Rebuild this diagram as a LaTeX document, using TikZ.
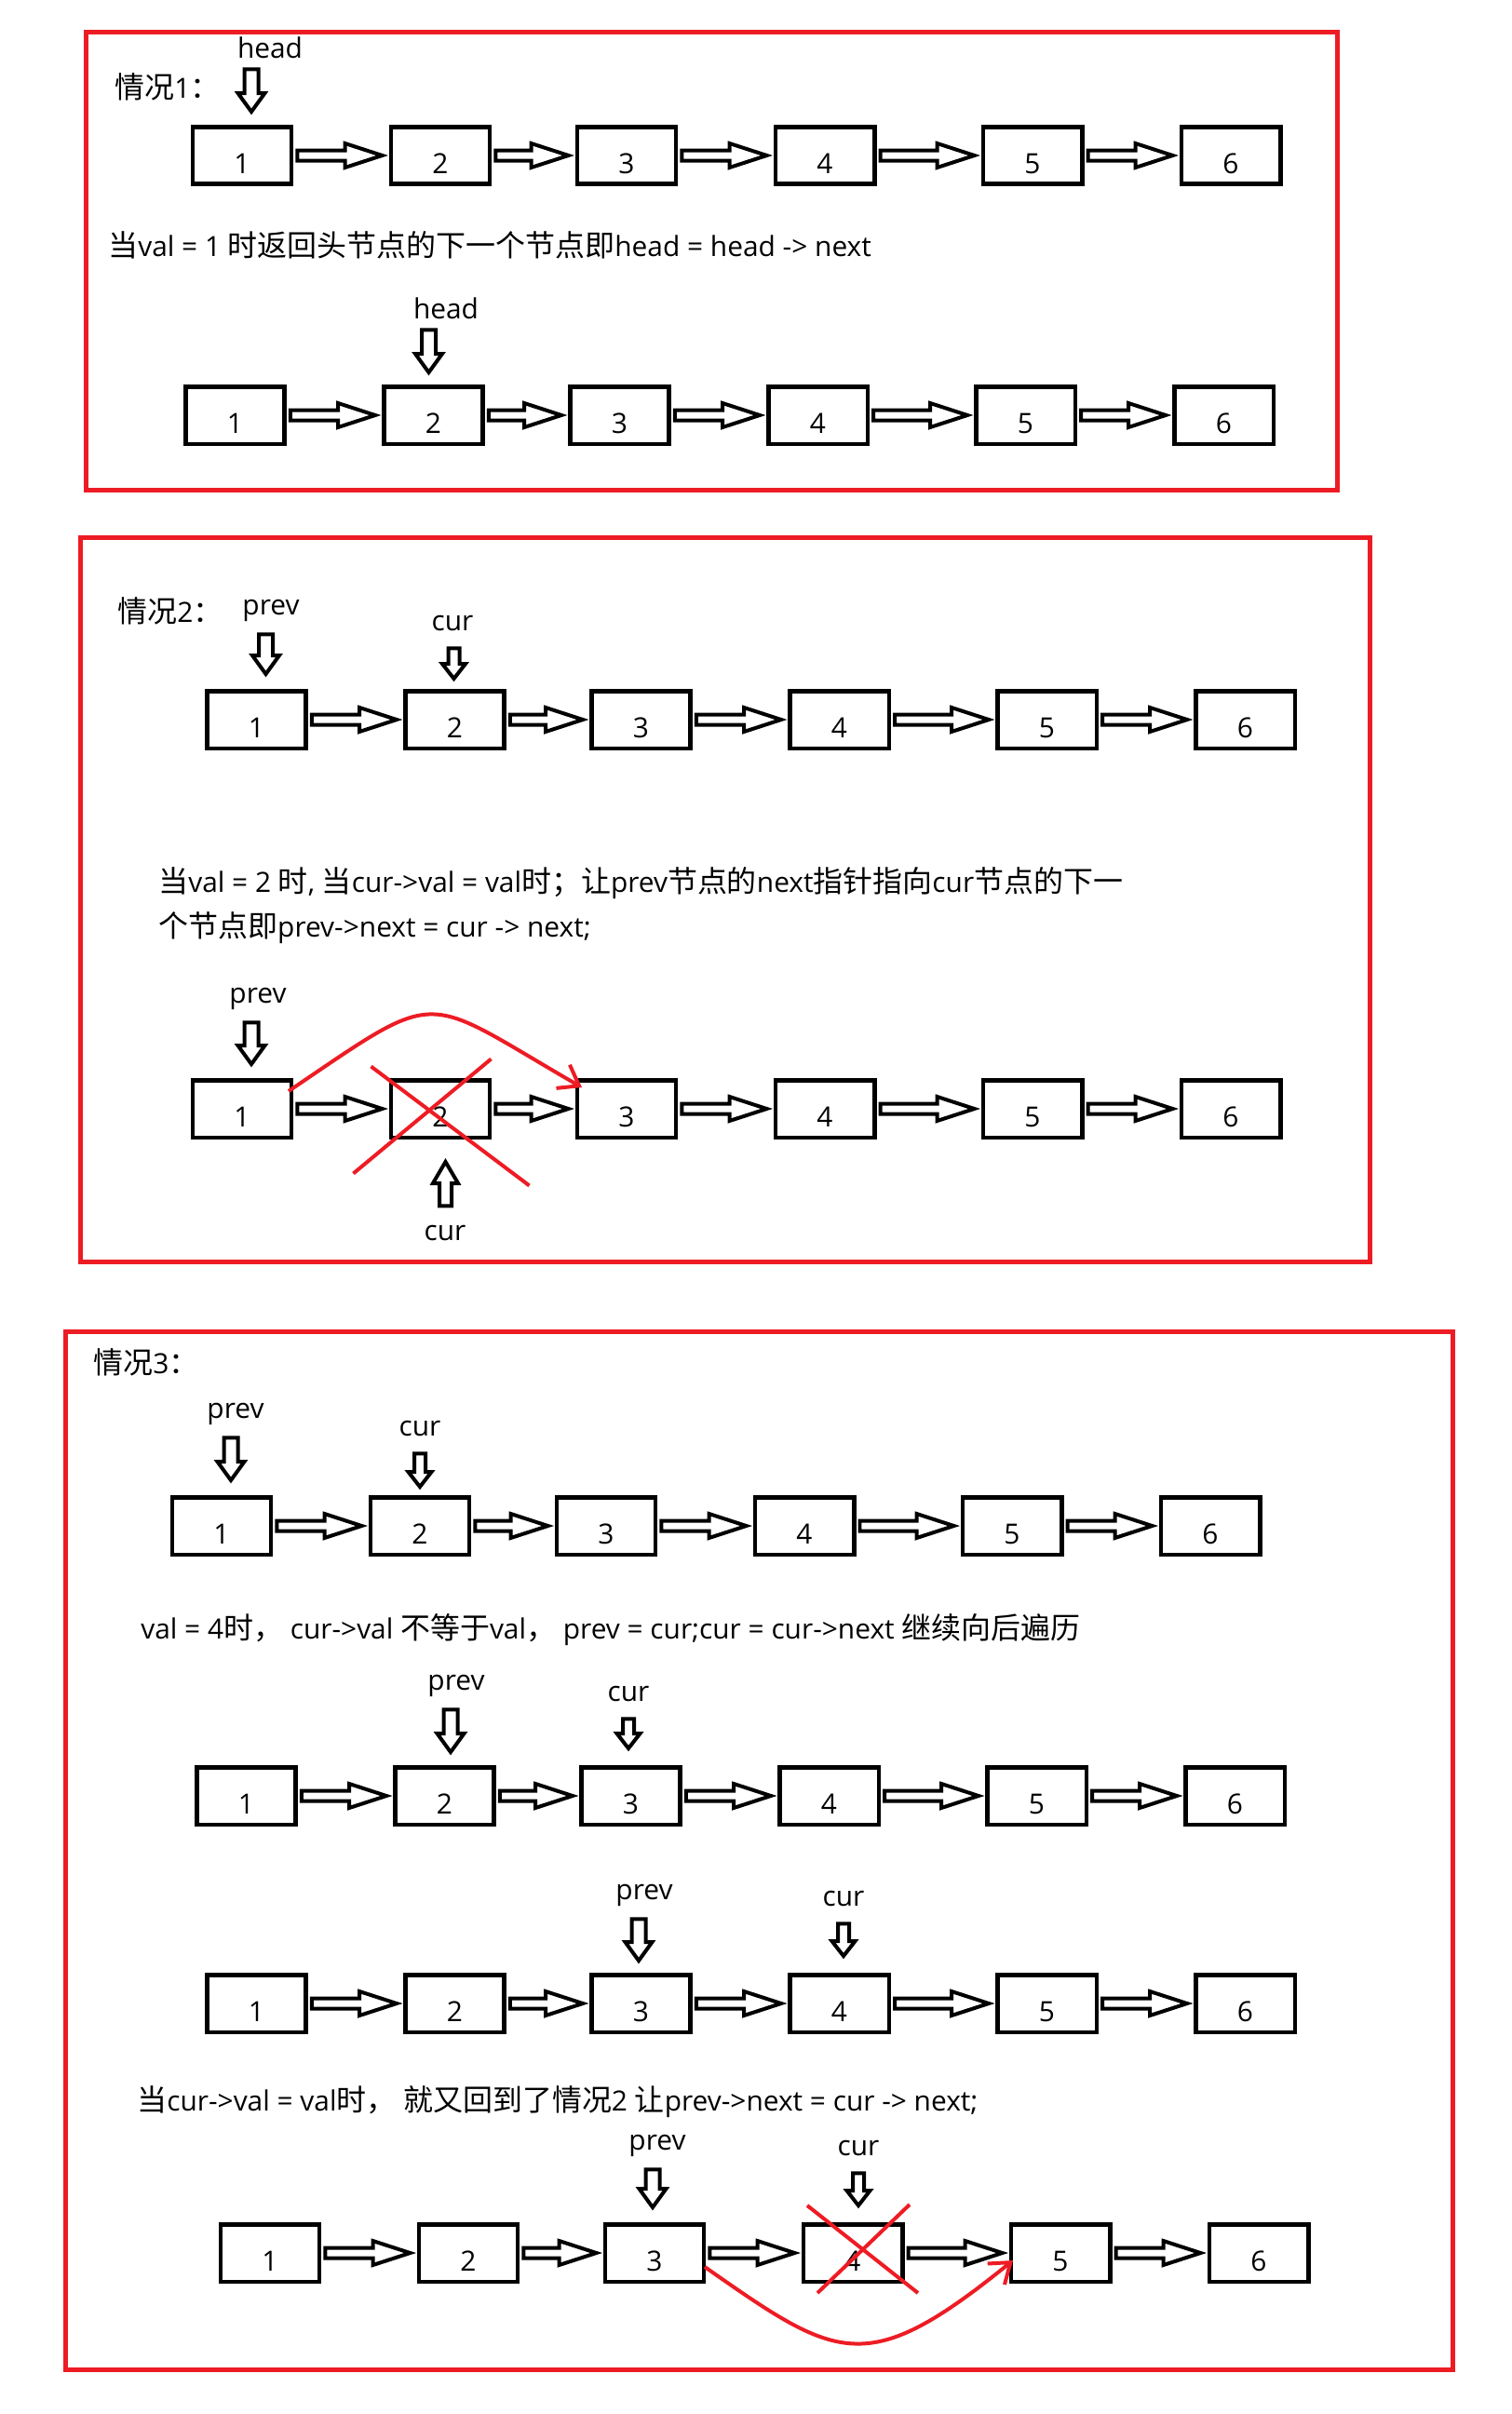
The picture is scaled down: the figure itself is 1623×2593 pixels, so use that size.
\documentclass[tikz,border=0pt]{standalone}
\usepackage{fontspec}
\setmainfont{Open Sans}
\newfontfamily\cjk[Scale=1.07]{Noto Sans CJK SC}
\usepackage{tikz}
\usetikzlibrary{arrows.meta, calc}
\definecolor{PaintRed}{RGB}{237, 28, 36}

% six boxes of one list, hollow arrows between them
\newcommand\linkedlist[3]{%
  \foreach \i/\dx in {1/0,2/213,3/413,4/626,5/849,6/1062}
    \node[listbox] (#1b\i) at (#2+\dx,#3) {\i};
  \foreach \i [evaluate=\i as \j using int(\i+1)] in {1,...,5}
    \draw[hollow] ($(#1b\i.east)+(4,-5.5)$) -- ($(#1b\j.west)+(-47,-5.5)$)
      -- ($(#1b\j.west)+(-47,-13)$) -- ($(#1b\j.west)+(-7,0)$)
      -- ($(#1b\j.west)+(-47,13)$) -- ($(#1b\j.west)+(-47,5.5)$)
      -- ($(#1b\i.east)+(4,5.5)$) -- cycle;
}
% hollow pointer from a label to a box
\newcommand\pointer[7]{%
  \coordinate (#1-tip) at (#3);
  \coordinate (#1-end) at ($(#1-tip |- #1.#2)+(0,#4)$);
  \draw[hollow] (#1-tip) -- ($(#1-tip)+(-#6,#5)$) -- ($(#1-tip)+(-#7,#5)$)
    -- ($(#1-end)+(-#7,0)$) -- ($(#1-end)+(#7,0)$)
    -- ($(#1-tip)+(#7,#5)$) -- ($(#1-tip)+(#6,#5)$) -- cycle;
}
\newcommand\bigptr[3]{\pointer{#1}{south}{#2}{#3}{-20}{14.5}{7.5}}
\newcommand\smallptr[3]{\pointer{#1}{south}{#2}{#3}{-16}{12.5}{6}}

\begin{document}
\begin{tikzpicture}[x=0.02cm, y=-0.02cm,
    font=\fontsize{17pt}{20pt}\selectfont,
    listbox/.style={draw, line width=0.09cm, minimum width=2.13cm, minimum height=1.23cm,
      inner sep=0pt, text height=0.76cm, text depth=0pt},
    hollow/.style={draw, line width=0.08cm, fill=white},
    ptrlabel/.style={anchor=base, inner sep=0pt, text depth=0pt},
    caption/.style={anchor=base west, inner sep=0pt},
    frame/.style={draw=PaintRed, line width=0.1cm},
    cross/.style={draw=PaintRed, line width=0.08cm},
    skip/.style={cross, -{Straight Barb[length=0.4cm, width=0.58cm]}},
  ]
  \useasboundingbox (0,0) rectangle (1623,2593);

  % case 1
  \draw[frame] (92,34) rectangle (1436,526);
  \node[caption] (case1) at (123,105) {{\cjk 情况}1{\cjk ：}};
  \linkedlist{r1}{260}{167}
  \node[ptrlabel] (hd1) at (290,62) {head};
  \bigptr{hd1}{$(r1b1.north)+(10,-14)$}{12}
  \node[caption] (rule1) at (116,275) {{\cjk 当}val = 1 {\cjk 时返回头节点的下一个节点即}head = head -> next};
  \linkedlist{r2}{252.5}{446}
  \node[ptrlabel] (hd2) at (479,342) {head};
  \bigptr{hd2}{$(r2b2.north)+(-5,-13)$}{12}

  % case 2
  \draw[frame] (86,577) rectangle (1471,1355);
  \node[caption] (case2) at (126,668) {{\cjk 情况}2{\cjk ：}};
  \linkedlist{r3}{275.5}{773}
  \node[ptrlabel] (pv3) at (291,660) {prev};
  \bigptr{pv3}{$(r3b1.north)+(10,-16)$}{21}
  \node[ptrlabel] (cu3) at (486,677) {cur};
  \smallptr{cu3}{$(r3b2.north)+(-1,-11)$}{19}
  \node[caption] (rule2a) at (170,958) {{\cjk 当}val = 2 {\cjk 时}, {\cjk 当}cur->val = val{\cjk 时；让}prev{\cjk 节点的}next{\cjk 指针指向}cur{\cjk 节点的下一}};
  \node[caption] (rule2b) at (170,1006) {{\cjk 个节点即}prev->next = cur -> next;};
  \linkedlist{r4}{260}{1191}
  \node[ptrlabel] (pv4) at (277,1077) {prev};
  \bigptr{pv4}{$(r4b1.north)+(10,-15)$}{21}
  \node[ptrlabel] (cu4) at (478,1332) {cur};
  \pointer{cu4}{north}{$(r4b2.south)+(5.5,24)$}{-20}{23}{13.5}{6.5}
  \draw[cross] ($(r4b2)+(-74.5,-45.5)$) -- ($(r4b2)+(95.5,82.5)$);
  \draw[cross] ($(r4b2)+(54.5,-53.5)$) -- ($(r4b2)+(-93.5,69.5)$);
  \draw[skip] ($(r4b1.north east)+(-5.5,14)$) .. controls +(167,-113) and +(-175,-101) .. ($(r4b3.north west)+(7.5,10)$);

  % case 3
  \draw[frame] (70,1430) rectangle (1560,2545);
  \node[caption] (case3) at (100,1475) {{\cjk 情况}3{\cjk ：}};
  \linkedlist{r5}{238}{1639}
  \node[ptrlabel] (pv5) at (253,1523) {prev};
  \bigptr{pv5}{$(r5b1.north)+(10,-16)$}{21}
  \node[ptrlabel] (cu5) at (451,1542) {cur};
  \smallptr{cu5}{$(r5b2.north)+(0,-9)$}{19}
  \node[caption] (rule3a) at (151,1760) {val = 4{\cjk 时，} cur->val {\cjk 不等于}val{\cjk ，} prev = cur;cur = cur->next {\cjk 继续向后遍历}};
  \linkedlist{r6}{264.5}{1929}
  \node[ptrlabel] (pv6) at (490,1815) {prev};
  \bigptr{pv6}{$(r6b2.north)+(6.5,-14)$}{21}
  \node[ptrlabel] (cu6) at (675,1827) {cur};
  \smallptr{cu6}{$(r6b3.north)+(-2.5,-18)$}{19}
  \linkedlist{r7}{275.5}{2152}
  \node[ptrlabel] (pv7) at (692,2040) {prev};
  \bigptr{pv7}{$(r7b3.north)+(-2.5,-13)$}{21}
  \node[ptrlabel] (cu7) at (906,2047) {cur};
  \smallptr{cu7}{$(r7b4.north)+(4.5,-18)$}{19}
  \node[caption] (rule3b) at (147,2267) {{\cjk 当}cur->val = val{\cjk 时，} {\cjk 就又回到了情况}2 {\cjk 让}prev->next = cur -> next;};
  \linkedlist{r8}{290}{2420}
  \node[ptrlabel] (pv8) at (706,2309) {prev};
  \bigptr{pv8}{$(r8b3.north)+(-2,-16)$}{21}
  \node[ptrlabel] (cu8) at (922,2315) {cur};
  \smallptr{cu8}{$(r8b4.north)+(6,-18)$}{19}
  \draw[cross] ($(r8b4)+(-49,-51)$) -- ($(r8b4)+(70,43)$);
  \draw[cross] ($(r8b4)+(61,-52)$) -- ($(r8b4)+(-38,43)$);
  \draw[skip] ($(r8b3.east)+(-1.5,15)$) .. controls +(143,100) and +(-158,128) .. ($(r8b5.west)+(4.5,8)$);
\end{tikzpicture}
\end{document}
